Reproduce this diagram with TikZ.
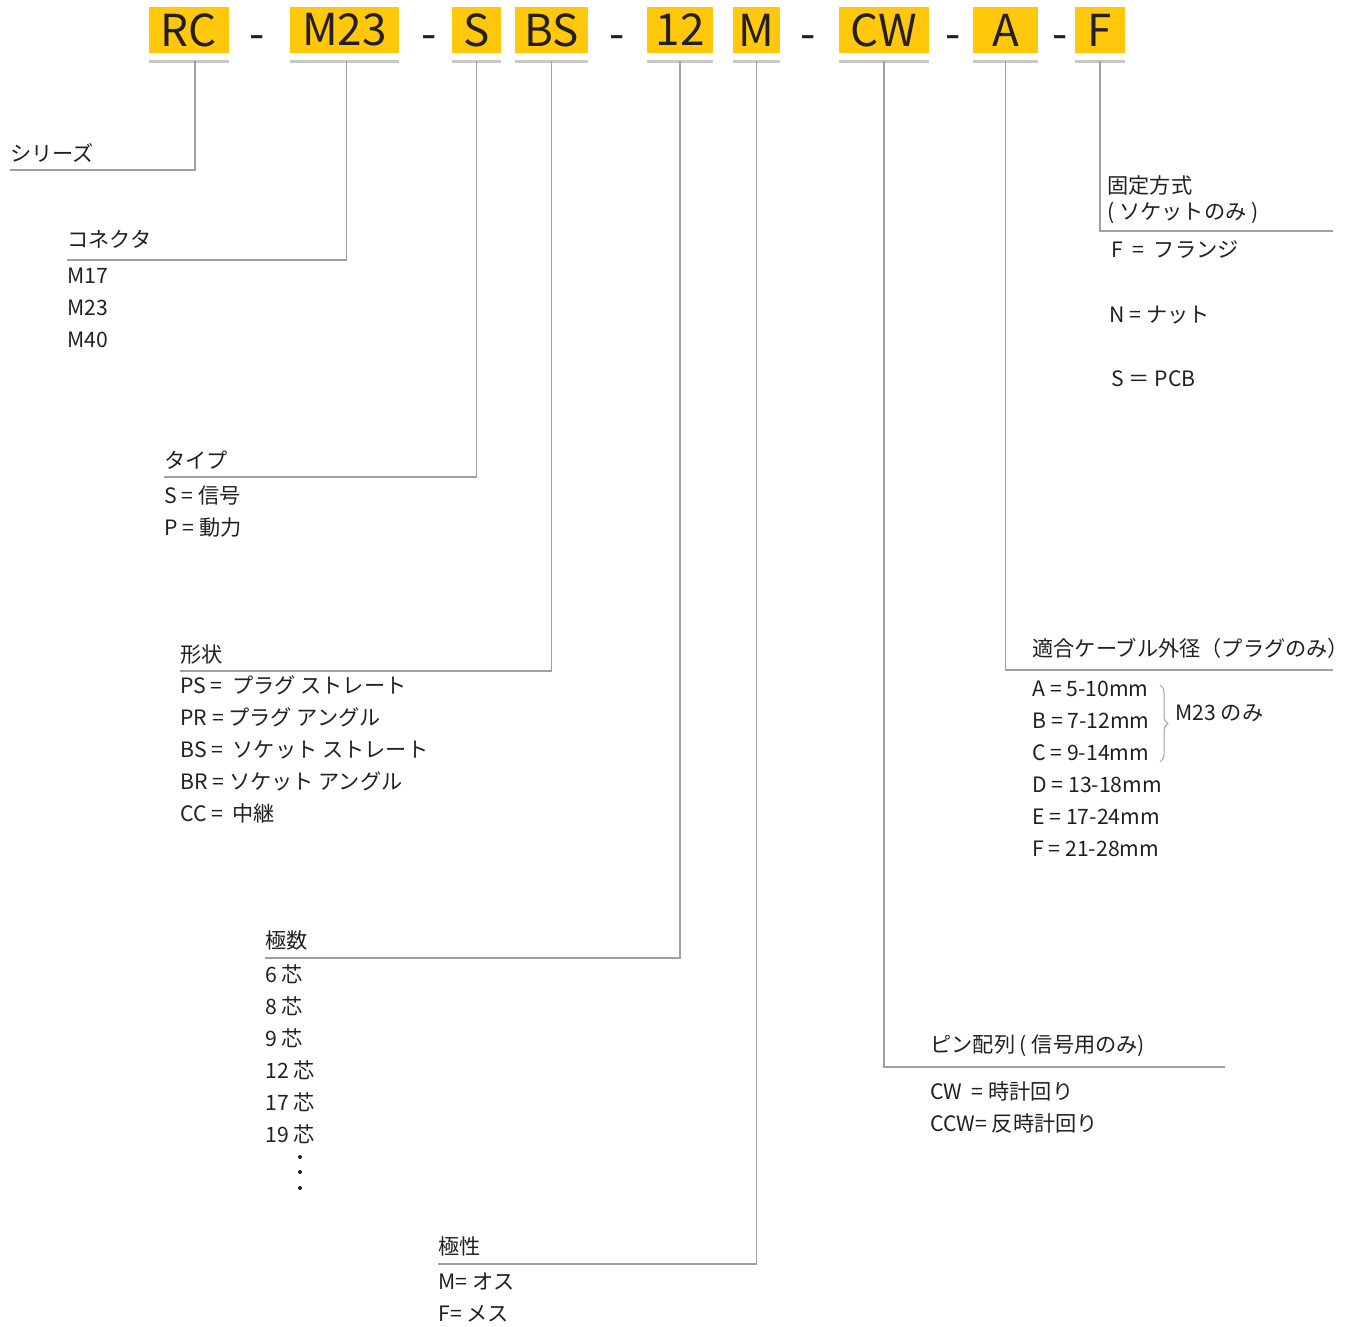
\documentclass[tikz,border=0pt]{standalone}
\usepackage{fontspec}
\setmainfont{Noto Sans CJK JP}
\usetikzlibrary{decorations.pathreplacing}
\definecolor{codeyellow}{RGB}{255,200,10}
\definecolor{inkgray}{RGB}{35,31,32}
\definecolor{leadgray}{RGB}{160,160,160}
\definecolor{ulgray}{RGB}{200,200,200}
\tikzset{
  hdr/.style={rectangle, fill=codeyellow, inner sep=0pt, minimum height=23pt,
              text=inkgray, font=\fontsize{22}{22}\selectfont},
  hdrdash/.style={inner sep=0pt, text=inkgray, font=\fontsize{22}{22}\selectfont},
  uline/.style={ulgray, line width=1.5pt},
  lead/.style={leadgray, line width=0.7pt},
  ttl/.style={anchor=base west, inner sep=0pt, text=inkgray,
              font=\fontsize{10.6}{12}\selectfont},
  opt/.style={ttl},
  brc/.style={decorate, decoration={brace, amplitude=4pt}, leadgray, line width=0.5pt},
  dotmark/.style={circle, fill=inkgray, inner sep=0pt, minimum size=2pt},
}
\begin{document}
\begin{tikzpicture}[x=0.5pt, y=-0.5pt]
  \useasboundingbox (0,0) rectangle (1350,1327);
  % part code boxes
  \node[hdr, minimum width=40pt]   (rc)  at (189,30)    {RC};
  \node[hdrdash]                   (dash1) at (257,43)  {-};
  \node[hdr, minimum width=54.5pt] (m23) at (344.5,30)  {M23};
  \node[hdrdash]                   (dash2) at (429,43)  {-};
  \node[hdr, minimum width=24.5pt] (sS)  at (476.5,30)  {S};
  \node[hdr, minimum width=36.5pt] (bs)  at (551.5,30)  {BS};
  \node[hdrdash]                   (dash3) at (617,43)  {-};
  \node[hdr, minimum width=33pt]   (n12) at (680,30)    {12};
  \node[hdr, minimum width=23.5pt] (mM)  at (756.5,30)  {M};
  \node[hdrdash]                   (dash4) at (808,43)  {-};
  \node[hdr, minimum width=45pt]   (cw)  at (884,30)    {CW};
  \node[hdrdash]                   (dash5) at (953,43)  {-};
  \node[hdr, minimum width=32.5pt] (aA)  at (1005.5,30) {A};
  \node[hdrdash]                   (dash6) at (1060,43) {-};
  \node[hdr, minimum width=25pt]   (fF)  at (1100,30)   {F};
  \foreach \b in {rc,m23,sS,bs,n12,mM,cw,aA,fF}
    \draw[uline] ([yshift=-4pt]\b.south west) -- ([yshift=-4pt]\b.south east);

  % line ends
  \coordinate (serE) at (10,170);
  \coordinate (conE) at (67,260);
  \coordinate (typE) at (164,477);
  \coordinate (shpE) at (180,671);
  \coordinate (polE) at (265,958);
  \coordinate (genE) at (438,1264);
  \coordinate (pinE) at (1225,1067);
  \coordinate (cabE) at (1333,670);
  \coordinate (fixE) at (1333,231);
  \draw[lead] ([xshift=3pt,yshift=-4pt]rc.south) |- (serE);
  \draw[lead] ([xshift=1pt,yshift=-4pt]m23.south) |- (conE);
  \draw[lead] ([yshift=-4pt]sS.south) |- (typE);
  \draw[lead] ([yshift=-4pt]bs.south) |- (shpE);
  \draw[lead] ([yshift=-4pt]n12.south) |- (polE);
  \draw[lead] ([yshift=-4pt]mM.south) |- (genE);
  \draw[lead] ([yshift=-4pt]cw.south) |- (pinE);
  \draw[lead] ([yshift=-4pt]aA.south) |- (cabE);
  \draw[lead] ([yshift=-4pt]fF.south) |- (fixE);

  % series
  \node[ttl] (serT) at (10,162) {シリーズ};
  % connector
  \node[ttl] (conT) at (67,248) {コネクタ};
  \foreach \t [count=\i] in {M17,M23,M40}
    \node[opt] (con\i) at (67,{251+32*\i}) {\t};
  % type
  \node[ttl] (typT) at (164,468) {タイプ};
  \node[opt] (typ1) at (164,503) {S = 信号};
  \node[opt] (typ2) at (164,535) {P = 動力};
  % shape
  \node[ttl] (shpT) at (180,662) {形状};
  \foreach \t [count=\i] in {PS = \ プラグ ストレート, PR = プラグ アングル,
      BS = \ ソケット ストレート, BR = ソケット アングル, CC = \ 中継}
    \node[opt] (shp\i) at (180,{661+32*\i}) {\t};
  % poles
  \node[ttl] (polT) at (265,948) {極数};
  \foreach \t [count=\i] in {6 芯,8 芯,9 芯,12 芯,17 芯,19 芯}
    \node[opt] (pol\i) at (265,{950+32*\i}) {\t};
  \foreach \y [count=\i] in {1157,1172,1188}
    \node[dotmark] (dot\i) at (300,\y) {};
  % gender
  \node[ttl] (genT) at (438,1254) {極性};
  \node[opt] (gen1) at (438,1289) {M= オス};
  \node[opt] (gen2) at (438,1321) {F= メス};
  % pin layout
  \node[ttl] (pinT) at (930,1052) {ピン配列 ( 信号用のみ)};
  \node[opt] (pin1) at (930,1099) {CW\ \ = 時計回り};
  \node[opt] (pin2) at (930,1131) {CCW= 反時計回り};
  % cable
  \node[ttl] (cabT) at (1032,656) {適合ケーブル外径（プラグのみ）};
  \foreach \t [count=\i] in {A = 5-10mm,B = 7-12mm,C = 9-14mm,
      D = 13-18mm,E = 17-24mm,F = 21-28mm}
    \node[opt] (cab\i) at (1032,{664+32*\i}) {\t};
  \draw[brc] (1160,685) -- (1160,762);
  \node[opt] (cabM) at (1175,720) {M23 のみ};
  % fixing
  \node[ttl] (fixT) at (1107,193) {固定方式};
  \node[ttl] (fixT2) at (1107,220) {( ソケットのみ )};
  \node[opt] (fix1) at (1111,257) {F \ = \ フランジ};
  \node[opt] (fix2) at (1109,322) {N = ナット};
  \node[opt] (fix3) at (1111,386) {S ＝ PCB};
\end{tikzpicture}
\end{document}
